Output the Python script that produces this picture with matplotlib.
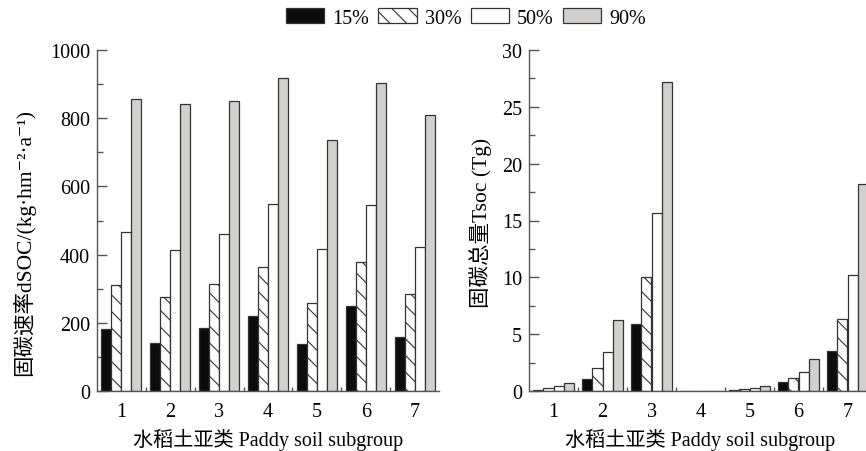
import matplotlib
matplotlib.use("Agg")
import matplotlib.pyplot as plt
import numpy as np
from matplotlib.patches import Patch

FAM = ['Liberation Serif', 'Noto Sans CJK SC', 'DejaVu Serif']
plt.rcParams['font.family'] = FAM
plt.rcParams['hatch.linewidth'] = 0.8
plt.rcParams['hatch.color'] = '#222222'

groups = ['1', '2', '3', '4', '5', '6', '7']
series = ['15%', '30%', '50%', '90%']

rate_15 = [182, 142, 184, 219, 138, 249, 158]
rate_30 = [311, 276, 314, 364, 258, 378, 284]
rate_50 = [466, 413, 460, 548, 416, 545, 422]
rate_90 = [856, 841, 851, 919, 737, 902, 809]

total_15 = [0.13, 1.03, 5.87, 0.0, 0.08, 0.76, 3.49]
total_30 = [0.25, 2.05, 10.05, 0.0, 0.17, 1.10, 6.36]
total_50 = [0.40, 3.43, 15.65, 0.0, 0.27, 1.67, 10.23]
total_90 = [0.72, 6.27, 27.2, 0.0, 0.48, 2.79, 18.2]

faces = ['#0c0c0c', 'white', 'white', '#d2cfcf']
hatches = [None, '\\\\', None, None]
edge = '#333333'
axcol = '#555555'
FS = 14.5

fig = plt.figure(figsize=(8.66, 4.52), dpi=100)
ax1 = fig.add_axes([97/866, 1-392/452, 342/866, 341/452])
ax2 = fig.add_axes([529/866, 1-392/452, 343/866, 341/452])

x = np.arange(1, len(groups) + 1)
w = 0.205
offsets = [-1.5*w, -0.5*w, 0.5*w, 1.5*w]

def draw(ax, data, ymax, major, minor):
    for vals, off, fc, h in zip(data, offsets, faces, hatches):
        ax.bar(x + off, vals, width=w, color=fc, edgecolor=edge, linewidth=0.9,
               hatch=h, zorder=2)
    ax.set_xlim(0.5, 7.5)
    ax.set_ylim(0, ymax)
    ax.set_yticks(np.arange(0, ymax + 0.01, major))
    ax.set_yticks(np.arange(0, ymax + 0.01, minor), minor=True)
    ax.set_xticks(x)
    ax.set_xticklabels(groups)
    ax.set_xticks(np.arange(1.5, 7.5, 1.0), minor=True)
    for s in ['top', 'right']:
        ax.spines[s].set_visible(False)
    for s in ['left', 'bottom']:
        ax.spines[s].set_color(axcol)
        ax.spines[s].set_linewidth(1.0)
    ax.tick_params(axis='y', which='major', direction='in', length=7, width=1.0,
                   color=axcol, labelsize=FS, pad=5)
    ax.tick_params(axis='y', which='minor', direction='in', length=4, width=1.0,
                   color=axcol)
    ax.tick_params(axis='x', which='major', length=0, labelsize=FS, pad=8)
    ax.tick_params(axis='x', which='minor', direction='in', length=3, width=1.0,
                   color=axcol)
    ax.set_xlabel('水稻土亚类 Paddy soil subgroup', fontsize=FS, labelpad=5)

draw(ax1, [rate_15, rate_30, rate_50, rate_90], 1000, 200, 100)
draw(ax2, [total_15, total_30, total_50, total_90], 30, 5, 2.5)

ax1.set_ylabel('固碳速率dSOC/(kg·hm⁻²·a⁻¹)', fontsize=15.5, family=FAM)
ax1.yaxis.set_label_coords(35/866, 1-243/452, transform=fig.transFigure)
ax2.set_ylabel('固碳总量Tsoc (Tg)', fontsize=15.5, family=FAM)
ax2.yaxis.set_label_coords(492/866, 1-223/452, transform=fig.transFigure)

handles = [Patch(facecolor=fc, edgecolor=edge, hatch=h, linewidth=0.9)
           for fc, h in zip(faces, hatches)]
fig.legend(handles, series, loc='center', bbox_to_anchor=(466/866, 1-19/452),
           ncol=4, frameon=False, fontsize=FS, handlelength=1.9, handleheight=0.7,
           handletextpad=0.4, columnspacing=0.45, borderpad=0)

fig.savefig('out.png', dpi=100)
